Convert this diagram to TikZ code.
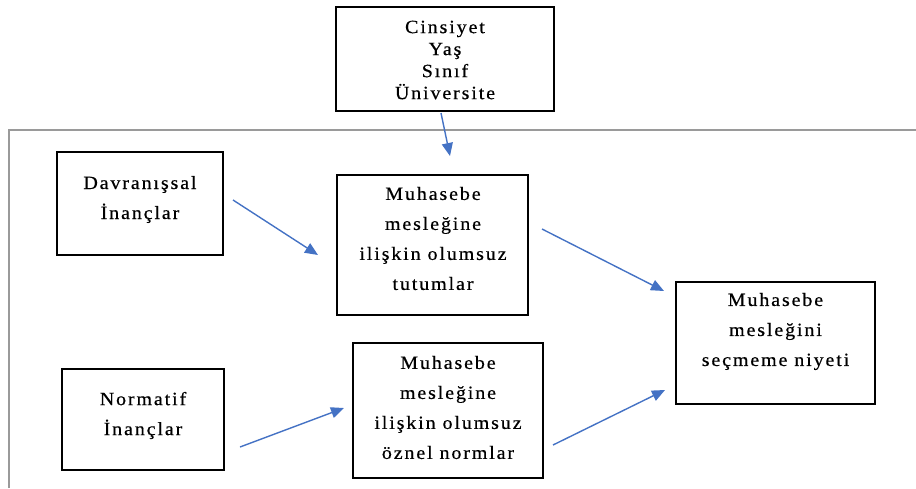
\documentclass[tikz,border=0pt]{standalone}
\usepackage{fontspec}
\newfontfamily\tbody[LetterSpace=10,FakeStretch=1.07,FakeBold=0.5]{Liberation Serif}
\usetikzlibrary{arrows.meta}
\definecolor{arrowblue}{HTML}{4472C4}
\definecolor{framegray}{HTML}{9A9A9A}
\begin{document}
\begin{tikzpicture}[x=1pt,y=-1pt,
  box/.style={draw=black, line width=1.8pt, inner sep=0pt, outer sep=0pt},
  txt/.style={align=center, inner sep=0pt, font=\tbody\fontsize{18.7}{30}\selectfont},
  txttop/.style={align=center, inner sep=0pt, font=\tbody\fontsize{18.7}{22}\selectfont},
  link/.style={draw=arrowblue, line width=1.4pt, -{Triangle[length=13pt,width=11pt]}},
  framestyle/.style={draw=framegray, line width=1.3pt}]
\useasboundingbox (0,0) rectangle (916,488);
% outer frame
\draw[framestyle] (9,488) -- (9,130) -- (916,130);
% boxes
\node[box, minimum width=218pt, minimum height=104pt] (top) at (445,59) {};
\node[box, minimum width=166pt, minimum height=103pt] (dav) at (140,203.5) {};
\node[box, minimum width=191pt, minimum height=140pt] (tut) at (432.5,245) {};
\node[box, minimum width=199pt, minimum height=122pt] (niy) at (775.5,343) {};
\node[box, minimum width=162pt, minimum height=101pt] (nor) at (143,419.5) {};
\node[box, minimum width=190pt, minimum height=135pt] (ozn) at (448,410.5) {};
% texts
\node[txttop] (toptxt) at (445,60) {Cinsiyet\\Yaş\\Sınıf\\Üniversite};
\node[txt] (davtxt) at (140,199.5) {Davranışsal\\İnançlar};
\node[txt] (tuttxt) at (433,238.5) {Muhasebe\\mesleğine\\ilişkin olumsuz\\tutumlar};
\node[txt] (niytxt) at (775.5,331.5) {Muhasebe\\mesleğini\\seçmeme niyeti};
\node[txt] (nortxt) at (143,415.5) {Normatif\\İnançlar};
\node[txt] (ozntxt) at (448,407.5) {Muhasebe\\mesleğine\\ilişkin olumsuz\\öznel normlar};
% arrow end points
\coordinate (a1s) at (441,113);
\coordinate (a1e) at (450,156);
\coordinate (a2s) at (233,200);
\coordinate (a2e) at (318,255);
\coordinate (a3s) at (542,229);
\coordinate (a3e) at (664,291);
\coordinate (a4s) at (240,447);
\coordinate (a4e) at (344,408);
\coordinate (a5s) at (553,445);
\coordinate (a5e) at (665,390);
\draw[link] (a1s) -- (a1e);
\draw[link] (a2s) -- (a2e);
\draw[link] (a3s) -- (a3e);
\draw[link] (a4s) -- (a4e);
\draw[link] (a5s) -- (a5e);
\end{tikzpicture}
\end{document}
